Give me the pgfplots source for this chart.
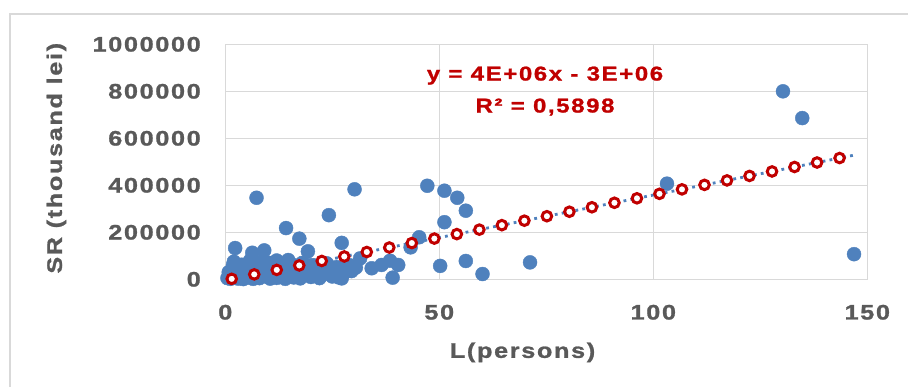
\documentclass[border=0pt]{standalone}
\usepackage{fontspec}
\usepackage{pgfplots}
\pgfplotsset{compat=1.18}
\newfontfamily\cf{Liberation Sans}[FakeStretch=1.2,LetterSpace=8,FakeBold=1.2]
\definecolor{txtgrey}{HTML}{595959}
\definecolor{gridgrey}{HTML}{D9D9D9}
\definecolor{ptblue}{HTML}{4F81BD}
\definecolor{trred}{HTML}{C00000}
\begin{document}
\begin{tikzpicture}
\useasboundingbox (0,0) rectangle (908bp,-387bp);
\draw[gridgrey, line width=1.5bp] (10bp,-390bp) -- (10bp,-14bp) -- (910bp,-14bp);
\begin{axis}[
  at={(225.3bp,-279.3bp)}, anchor=south west,
  scale only axis, width=642bp, height=235bp,
  xmin=0, xmax=150, ymin=0, ymax=1000000,
  xtick={0,50,100,150},
  ytick={0,200000,400000,600000,800000,1000000},
  scaled y ticks=false, scaled x ticks=false,
  /pgf/number format/.cd, fixed, precision=0, 1000 sep={}, assume math mode=true, /pgfplots/.cd,
  grid=major,
  grid style={gridgrey, line width=1bp},
  axis line style={gridgrey, line width=1bp},
  major tick length=0pt,
  tick label style={font=\cf\bfseries\fontsize{21bp}{24bp}\selectfont, text=txtgrey},
  yticklabel style={anchor=east, xshift=-21bp},
  xticklabel style={anchor=north, yshift=-22bp},
  xlabel={L(persons)},
  ylabel={SR (thousand lei)},
  label style={font=\cf\bfseries\fontsize{21bp}{24bp}\selectfont, text=txtgrey},
  xlabel style={at={(axis description cs:0.463,-0.311)}, anchor=center},
  ylabel style={at={(axis description cs:-0.263,0.515)}, anchor=center, rotate=0},
  clip=false,
]
% observed data
\addplot[only marks, mark=*, mark size=7bp, mark options={fill=ptblue, draw=ptblue}] coordinates {
(130.3,800000) (134.8,686000) (146.9,107000) (103.2,407000) (71.2,72000)
(60.1,22500) (56.2,78000) (56.2,292000) (54.2,347000) (51.2,377000)
(47.2,398000) (51.2,243000) (45.3,179000) (43.3,136000) (50.2,57000)
(38.5,79000) (40.4,61000) (39.1,7000) (36.5,61000) (34.2,47000)
(31.5,89000) (30.2,383000) (24.2,273000) (27.2,155000) (27.2,4000)
(22.1,54000) (19.3,119000) (17.3,173000) (14.2,218000) (7.3,347000)
(2.3,133000) (6.3,113000) (9.1,123000)
(0.5,5000) (1,20000) (1.2,2000) (1.5,40000) (2,10000) (2.5,55000)
(3,3000) (3,30000) (3.5,15000) (4,45000) (4.2,1000) (4.8,25000)
(5,60000) (5.5,8000) (6,35000) (6.5,2000) (7,50000) (7.2,18000)
(8,5000) (8.3,40000) (9,65000) (9.5,12000) (10,28000) (10.5,3000)
(11,50000) (11.5,20000) (12,6000) (12.5,38000) (13,62000) (13.5,15000)
(14,2000) (14.7,82000) (15,45000) (15.5,25000) (16,8000) (16.5,58000)
(17,32000) (17.5,4000) (18,70000) (18.5,18000) (19,45000) (20,10000)
(20.5,60000) (21,28000) (22,5000) (22.9,21000) (23.7,68000) (24,38000)
(25,12000) (26,52000) (28,30000) (29,60000)
(0.8,30000) (1.8,60000) (2.8,45000) (3.8,62000) (4.5,8000) (5.2,42000)
(6.2,55000) (7.8,30000) (8.7,52000) (9.8,45000) (10.8,10000) (11.8,60000)
(12.8,25000) (13.8,48000) (14.5,30000) (15.8,60000) (16.8,15000) (17.8,50000)
(18.8,35000) (19.5,60000) (20.8,40000) (21.5,15000) (23,45000) (24.5,25000)
(25.5,35000) (26.5,8000) (27.5,45000) (29.5,35000) (30.5,50000) (2,75000)
(5.8,80000) (10.2,70000) (12,80000) (8.5,75000)
};
% fitted values
\addplot[only marks, mark=*, mark size=4.8bp, mark options={fill=white, draw=trred, line width=3bp}] coordinates {
(1.50,1930) (6.76,20970) (12.02,40010) (17.28,59050) (22.54,78100)
(27.80,97140) (33.06,116180) (38.32,135220) (43.58,154260) (48.84,173300)
(54.10,192340) (59.36,211380) (64.62,230420) (69.88,249460) (75.14,268510)
(80.40,287550) (85.66,306590) (90.92,325630) (96.18,344670) (101.44,363710)
(106.70,382750) (111.96,401800) (117.22,420840) (122.48,439880) (127.74,458920)
(133.00,477960) (138.26,497000) (143.52,516040)
};
% linear trendline
\addplot[ptblue, line width=2.8bp, dash pattern=on 2.8bp off 4.2bp] coordinates {(0,-3500) (147,528640)};
\node[font=\cf\bfseries\fontsize{20bp}{32bp}\selectfont, text=trred, align=center] at (axis cs:74.7,801000) {y = 4E+06x - 3E+06\\R² = 0,5898};
\end{axis}
\end{tikzpicture}
\end{document}
